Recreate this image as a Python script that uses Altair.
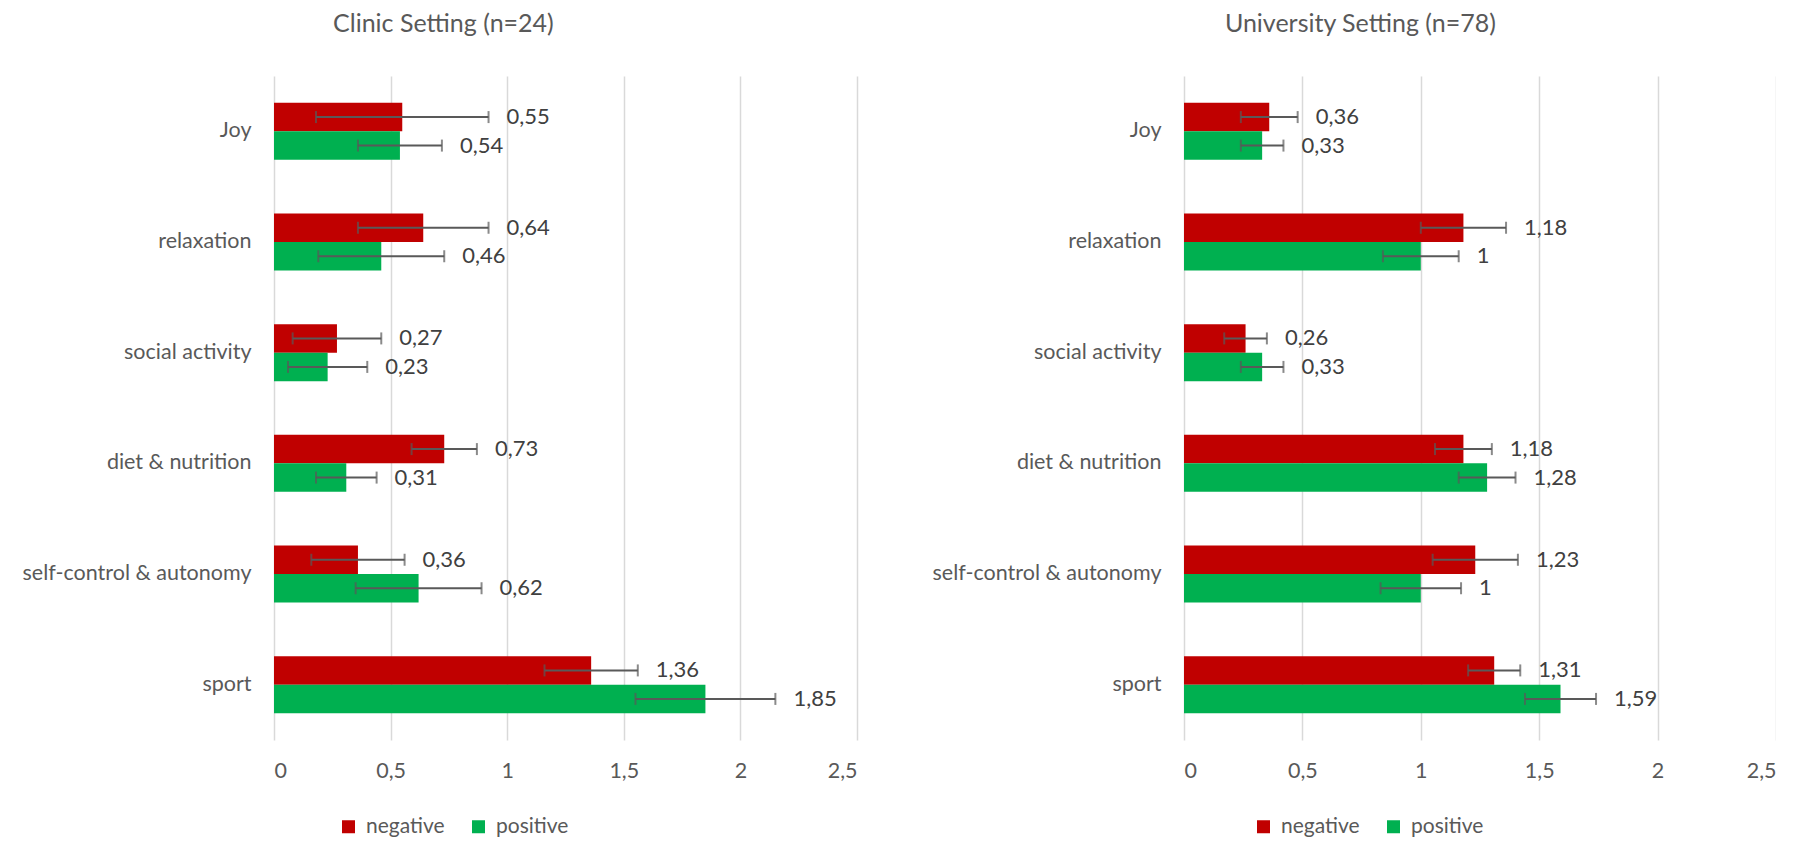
import altair as alt
import pandas as pd

categories = ["Joy", "relaxation", "social activity", "diet & nutrition",
              "self-control & autonomy", "sport"]
series = ["negative", "positive"]
colors = ["#C00000", "#00B050"]
titles = ["Clinic Setting (n=24)", "University Setting (n=78)"]

clinic_negative = [0.55, 0.64, 0.27, 0.73, 0.36, 1.36]
clinic_positive = [0.54, 0.46, 0.23, 0.31, 0.62, 1.85]
clinic_negative_err = [0.37, 0.28, 0.19, 0.14, 0.20, 0.20]
clinic_positive_err = [0.18, 0.27, 0.17, 0.13, 0.27, 0.30]

uni_negative = [0.36, 1.18, 0.26, 1.18, 1.23, 1.31]
uni_positive = [0.33, 1.00, 0.33, 1.28, 1.00, 1.59]
uni_negative_err = [0.12, 0.18, 0.09, 0.12, 0.18, 0.11]
uni_positive_err = [0.09, 0.16, 0.09, 0.12, 0.17, 0.15]

x_ticks = [0, 0.5, 1, 1.5, 2, 2.5]

FONT = "Lato"
TXT = "#595959"
FS = 21.5
PLOT_H = 664


def fmt(v):
    s = f"{v:.2f}".rstrip("0").rstrip(".")
    return s.replace(".", ",")


def make_df(neg, pos, neg_err, pos_err):
    rows = []
    for i, c in enumerate(categories):
        for s, v, e in (("negative", neg[i], neg_err[i]), ("positive", pos[i], pos_err[i])):
            rows.append({"category": c, "series": s, "value": v,
                         "lo": v - e, "hi": v + e, "label": fmt(v)})
    return pd.DataFrame(rows)


def panel(df, title, width, title_x, legend_x, anchor=False):
    base = alt.Chart(df)
    y = alt.Y("category:N", sort=categories,
              scale=alt.Scale(domain=categories, paddingInner=0.485, paddingOuter=0.2425),
              axis=alt.Axis(title=None, labelFont=FONT, labelFontSize=FS, labelColor=TXT,
                            labelPadding=23, ticks=False, domain=False, grid=False,
                            labelLimit=400))
    yo = alt.YOffset("series:N", sort=series,
                     scale=alt.Scale(domain=series, paddingInner=0, paddingOuter=0))
    xscale = alt.Scale(domain=[0, 2.5], nice=False, zero=True)
    bars = base.mark_bar().encode(
        x=alt.X("value:Q", scale=xscale,
                axis=alt.Axis(title=None, values=x_ticks, grid=True, gridColor="#d9d9d9",
                              gridWidth=1.5, domain=False, ticks=False, format="~g",
                              labelFont=FONT, labelFontSize=FS, labelColor=TXT,
                              labelPadding=20,
                              labelExpr="replace(format(datum.value, '~g'), '.', ',')")),
        y=y, yOffset=yo,
        color=alt.Color("series:N", sort=series,
                        scale=alt.Scale(domain=series, range=colors),
                        legend=alt.Legend(orient="none", legendX=legend_x, legendY=740,
                                          direction="horizontal", title=None,
                                          symbolType="square", symbolSize=169,
                                          symbolStrokeWidth=0, labelFont=FONT,
                                          labelFontSize=21, labelColor=TXT,
                                          labelOffset=7, columnPadding=23, padding=0)),
    )
    err = base.mark_rule(color="#595959", strokeWidth=2).encode(
        x=alt.X("lo:Q", scale=xscale), x2="hi:Q", y=y, yOffset=yo)
    cap_lo = base.mark_tick(color="#595959", thickness=2, size=12).encode(
        x=alt.X("lo:Q", scale=xscale), y=y, yOffset=yo)
    cap_hi = base.mark_tick(color="#595959", thickness=2, size=12).encode(
        x=alt.X("hi:Q", scale=xscale), y=y, yOffset=yo)
    labels = base.mark_text(align="left", baseline="middle", dx=18, font=FONT,
                            fontSize=22, color="#404040").encode(
        x=alt.X("hi:Q", scale=xscale), y=y, yOffset=yo, text="label:N")
    ttl = alt.Chart(pd.DataFrame({"t": [title]})).mark_text(
        align="center", baseline="middle", font=FONT, fontSize=25, color=TXT).encode(
        x=alt.value(title_x), y=alt.value(-52), text="t:N")
    layers = [bars, err, cap_lo, cap_hi, labels, ttl]
    if anchor:
        anc = alt.Chart(pd.DataFrame({"a": [0]})).mark_rule(
            strokeOpacity=0, strokeWidth=1).encode(
            x=alt.value(-266), x2=alt.value(-262), y=alt.value(-68))
        layers.append(anc)
    return alt.layer(*layers).properties(width=width, height=PLOT_H)


left = panel(make_df(clinic_negative, clinic_positive, clinic_negative_err, clinic_positive_err),
             titles[0], 583, 169.4, 64, anchor=True)
right = panel(make_df(uni_negative, uni_positive, uni_negative_err, uni_positive_err),
              titles[1], 592, 176.4, 69)

chart = alt.hconcat(left, right, spacing=327, bounds="flush").resolve_scale(
    color="independent", x="independent", y="independent", yOffset="independent"
).properties(padding=0).configure_view(stroke=None)

chart.save("out.html", embed_options={"renderer": "svg", "actions": False})
